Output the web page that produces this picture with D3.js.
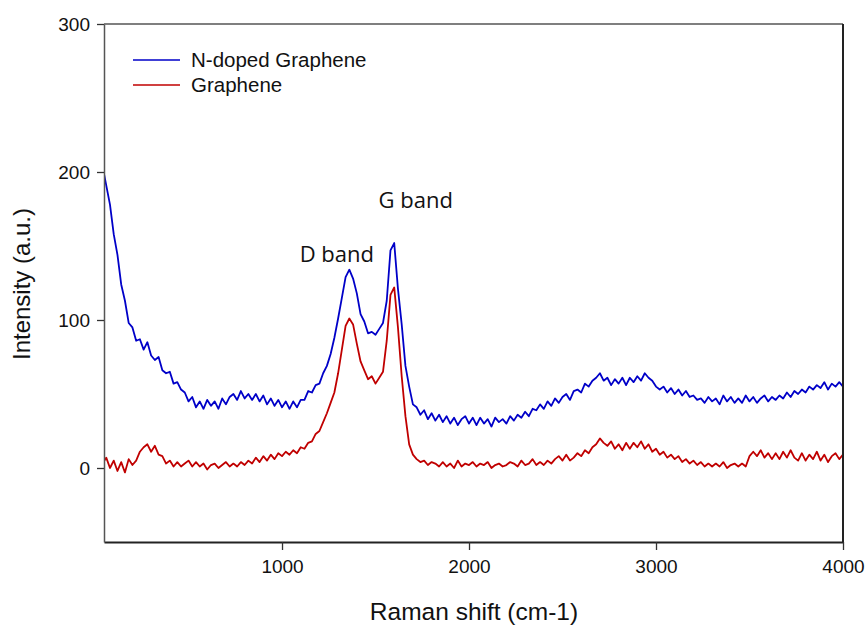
<!DOCTYPE html>
<html><head><meta charset="utf-8">
<script src="https://cdn.jsdelivr.net/npm/d3@7/dist/d3.min.js"></script>
<style>
html,body{margin:0;padding:0;background:#fff;}
svg{display:block;}
</style></head>
<body>
<svg id="chart" width="867" height="628"></svg>
<script>
// Raman shift grid (cm-1): 40, 60, ..., 4000
const shiftStart = 40, shiftStep = 20;
const nDoped = [
 204,191,178,158,144,124,113,98,95,86,
 87,80,85,76,73,75,66,64,65,57,
 58,53,51,45,48,41,45,40,46,42,
 45,40,47,43,48,50,46,52,47,50,
 46,50,45,49,43,47,42,46,41,45,
 40,45,41,46,46,52,51,56,57,64,
 69,77,88,101,115,129,134,128,118,104,
 99,91,92,90,94,98,113,147,152,121,
 97,69,55,43,41,36,39,33,37,32,
 36,31,35,30,34,29,33,35,30,34,
 29,34,30,33,28,34,31,33,30,35,
 32,36,34,38,35,40,39,43,40,45,
 42,47,44,48,50,46,52,53,51,57,
 55,59,61,64,59,61,56,60,57,61,
 56,61,58,62,59,64,61,59,55,53,
 55,51,54,50,53,49,52,48,49,46,
 47,44,48,45,47,43,49,45,48,44,
 47,44,49,45,48,44,47,49,45,48,
 46,49,47,51,48,52,50,53,51,55,
 53,56,54,58,53,57,55,58,55
];
const graphene = [
 3,7,0,5,-2,4,-3,6,2,5,
 11,14,16,11,15,9,8,3,5,1,
 4,1,3,5,1,4,1,3,-1,2,
 3,0,2,4,1,3,1,4,2,5,
 3,7,4,8,5,9,6,10,8,11,
 9,12,10,14,13,17,18,23,25,31,
 37,44,51,64,80,96,101,97,84,72,
 66,60,62,57,61,65,86,117,122,95,
 62,35,16,9,6,4,5,2,4,3,
 1,4,1,3,0,5,1,3,2,4,
 1,3,2,4,0,2,3,1,2,4,
 3,1,5,2,3,6,2,4,2,5,
 3,6,8,5,9,5,7,10,8,12,
 10,14,16,20,17,15,18,13,16,12,
 17,13,17,14,18,13,16,11,13,9,
 11,7,9,6,8,4,6,3,5,2,
 4,1,3,1,3,1,4,0,2,3,
 1,3,1,8,11,8,12,7,10,6,
 10,6,11,7,12,7,5,10,5,9,
 6,11,5,9,4,8,10,6,9
];
const seriesNames = ["N-doped Graphene", "Graphene"];
const seriesColors = ["#0000c8", "#c00000"];
const xTicks = [1000, 2000, 3000, 4000];
const yTicks = [0, 100, 200, 300];
const annotations = [
  {text: "D band", x: 1293, y: 139},
  {text: "G band", x: 1715, y: 176}
];

(function () {
const svg = d3.select("#chart");
const pL = 104, pR = 843, pT = 24, pB = 542;
const x = d3.scaleLinear().domain([48, 4000]).range([pL, pR]);
const y = d3.scaleLinear().domain([-50, 300]).range([pB, pT]);

const shifts = d3.range(nDoped.length).map(i => shiftStart + i * shiftStep);

svg.append("defs").append("clipPath").attr("id", "clip")
  .append("rect").attr("x", pL).attr("y", pT).attr("width", pR - pL).attr("height", pB - pT);

const line = d3.line().x(d => x(d[0])).y(d => y(d[1]));
const plot = svg.append("g").attr("clip-path", "url(#clip)");
[nDoped, graphene].forEach((vals, k) => {
  plot.append("path")
    .datum(vals.map((v, i) => [shifts[i], v]))
    .attr("fill", "none")
    .attr("stroke", seriesColors[k])
    .attr("stroke-width", 1.8)
    .attr("stroke-linejoin", "round")
    .attr("d", line);
});

// frame
svg.append("line").attr("x1", pL).attr("x2", pR).attr("y1", pT).attr("y2", pT)
  .attr("stroke", "#555").attr("stroke-width", 1.5);
svg.append("line").attr("x1", pR).attr("x2", pR).attr("y1", pT).attr("y2", pB)
  .attr("stroke", "#222").attr("stroke-width", 2);

// axes
const xAxis = svg.append("g").attr("transform", `translate(0,${pB})`)
  .call(d3.axisBottom(x).tickValues(xTicks).tickSize(8).tickSizeOuter(0).tickPadding(10).tickFormat(d3.format("d")));
const yAxis = svg.append("g").attr("transform", `translate(${pL},0)`)
  .call(d3.axisLeft(y).tickValues(yTicks).tickSize(7).tickSizeOuter(0).tickPadding(7).tickFormat(d3.format("d")));
[xAxis, yAxis].forEach(a => {
  a.selectAll("text").attr("font-family", "Liberation Sans, Arial, sans-serif").attr("font-size", 19).attr("fill", "#111");
  a.selectAll(".tick line").attr("stroke", "#333").attr("stroke-width", 1.3);
});
xAxis.select(".domain").attr("stroke", "#222").attr("stroke-width", 2);
yAxis.select(".domain").attr("stroke", "#555").attr("stroke-width", 1.5);

// axis titles
svg.append("text").attr("x", 474).attr("y", 620).attr("text-anchor", "middle")
  .attr("font-family", "Liberation Sans, Arial, sans-serif").attr("font-size", 24.5).attr("fill", "#111")
  .text("Raman shift (cm-1)");
svg.append("text").attr("transform", "translate(30,284) rotate(-90)").attr("text-anchor", "middle")
  .attr("font-family", "Liberation Sans, Arial, sans-serif").attr("font-size", 24).attr("fill", "#111")
  .text("Intensity (a.u.)");

// legend
const legend = svg.append("g");
seriesNames.forEach((name, k) => {
  const ly = 60 + k * 25;
  legend.append("line").attr("x1", 133).attr("x2", 180).attr("y1", ly).attr("y2", ly)
    .attr("stroke", seriesColors[k]).attr("stroke-width", 1.5);
  legend.append("text").attr("x", 191).attr("y", ly + 7)
    .attr("font-family", "Liberation Sans, Arial, sans-serif").attr("font-size", 20.5).attr("fill", "#111")
    .text(name);
});

// annotations
annotations.forEach(a => {
  svg.append("text").attr("x", x(a.x)).attr("y", y(a.y)).attr("text-anchor", "middle")
    .attr("font-family", "Open Sans, Noto Sans, sans-serif").attr("font-size", 22).attr("fill", "#111")
    .text(a.text);
});
})();
</script>
</body></html>
